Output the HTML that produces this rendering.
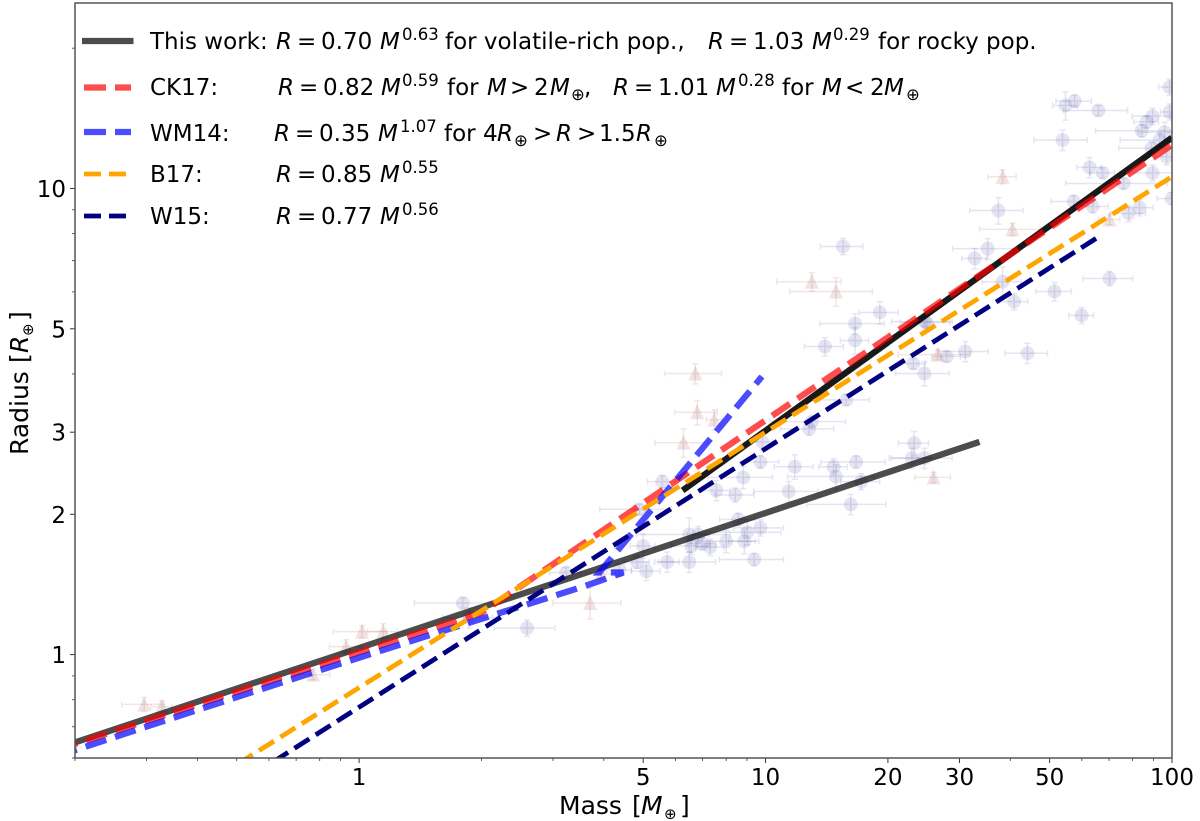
<!DOCTYPE html>
<html lang="en">
<head>
<meta charset="utf-8">
<title>Mass-radius relation</title>
<style>
html,body{margin:0;padding:0;background:#fff;width:1200px;height:821px;overflow:hidden}
svg{display:block;font-family:"DejaVu Sans","Liberation Sans",sans-serif;fill:#000}
.i{font-style:italic}
</style>
</head>
<body>
<svg id="chart" xmlns="http://www.w3.org/2000/svg" width="1200" height="821" viewBox="0 0 1200 821">
  <defs><clipPath id="plot-clip"><rect x="75" y="3" width="1097" height="755"/></clipPath></defs>
  <rect x="0" y="0" width="1200" height="821" fill="#fff"/>
  <g id="points" clip-path="url(#plot-clip)"></g>
  <g id="lines" clip-path="url(#plot-clip)"></g>
  <g id="ticks"></g>
  <rect x="75" y="3" width="1097" height="755" fill="none" stroke="#555" stroke-width="1.5"/>

  <g font-size="23">
    <g>
      <line x1="82" x2="133.5" y1="41" y2="41" stroke="#000" stroke-opacity=".7" stroke-width="6.3"/>
      <text y="49"><tspan x="150">This work:</tspan><tspan x="276" class="i">R</tspan><tspan x="297">=</tspan><tspan x="321">0.70</tspan><tspan x="380" class="i">M</tspan><tspan x="445">for volatile-rich pop.,</tspan><tspan x="708" class="i">R</tspan><tspan x="729">=</tspan><tspan x="753">1.03</tspan><tspan x="812" class="i">M</tspan><tspan x="878">for rocky pop.</tspan></text>
      <text y="40" font-size="16.5"><tspan x="402">0.63</tspan><tspan x="833">0.29</tspan></text>
    </g>
    <g>
      <line x1="84" x2="131" y1="87.5" y2="87.5" stroke="#ff0000" stroke-opacity=".7" stroke-width="6.3" stroke-dasharray="22 9"/>
      <text y="95"><tspan x="150">CK17:</tspan><tspan x="278" class="i">R</tspan><tspan x="299">=</tspan><tspan x="323">0.82</tspan><tspan x="381" class="i">M</tspan><tspan x="447">for</tspan><tspan x="487" class="i">M</tspan><tspan x="510">&gt;</tspan><tspan x="534">2</tspan><tspan x="550" class="i">M</tspan><tspan x="584">,</tspan><tspan x="613" class="i">R</tspan><tspan x="634">=</tspan><tspan x="658">1.01</tspan><tspan x="716" class="i">M</tspan><tspan x="782">for</tspan><tspan x="822" class="i">M</tspan><tspan x="845">&lt;</tspan><tspan x="870">2</tspan><tspan x="884" class="i">M</tspan></text>
      <text y="86" font-size="16.5"><tspan x="402">0.59</tspan><tspan x="738">0.28</tspan></text>
      <text y="100" font-size="16.5"><tspan x="571">⊕</tspan><tspan x="906">⊕</tspan></text>
    </g>
    <g>
      <line x1="84" x2="131" y1="132" y2="132" stroke="#0000ff" stroke-opacity=".7" stroke-width="6.3" stroke-dasharray="22 9"/>
      <text y="141"><tspan x="150">WM14:</tspan><tspan x="274" class="i">R</tspan><tspan x="295">=</tspan><tspan x="319">0.35</tspan><tspan x="378" class="i">M</tspan><tspan x="444">for</tspan><tspan x="483">4</tspan><tspan x="497" class="i">R</tspan><tspan x="533">&gt;</tspan><tspan x="556" class="i">R</tspan><tspan x="577">&gt;</tspan><tspan x="599">1.5</tspan><tspan x="636" class="i">R</tspan></text>
      <text y="132" font-size="16.5"><tspan x="400">1.07</tspan></text>
      <text y="146" font-size="16.5"><tspan x="514">⊕</tspan><tspan x="654">⊕</tspan></text>
    </g>
    <g>
      <line x1="84" x2="126" y1="174" y2="174" stroke="#ffa500" stroke-width="4.8" stroke-dasharray="17 8"/>
      <text y="182"><tspan x="150">B17:</tspan><tspan x="276" class="i">R</tspan><tspan x="297">=</tspan><tspan x="321">0.85</tspan><tspan x="380" class="i">M</tspan></text>
      <text y="173" font-size="16.5"><tspan x="402">0.55</tspan></text>
    </g>
    <g>
      <line x1="84" x2="126" y1="216" y2="216" stroke="#000080" stroke-width="4.8" stroke-dasharray="17 8"/>
      <text y="224"><tspan x="150">W15:</tspan><tspan x="276" class="i">R</tspan><tspan x="297">=</tspan><tspan x="321">0.77</tspan><tspan x="380" class="i">M</tspan></text>
      <text y="215" font-size="16.5"><tspan x="402">0.56</tspan></text>
    </g>
  </g>

  <g font-size="25">
    <text y="814"><tspan x="559">Mass</tspan><tspan x="632">[</tspan><tspan x="641" class="i">M</tspan><tspan x="680">]</tspan></text>
    <text x="664" y="819" font-size="15">⊕</text>
  </g>
  <g font-size="25" transform="translate(28,455) rotate(-90)">
    <text y="0"><tspan x="0">Radius</tspan><tspan x="92">[</tspan><tspan x="102" class="i">R</tspan><tspan x="134">]</tspan></text>
    <text x="119" y="5" font-size="15">⊕</text>
  </g>
</svg>
<script>
// Blue points: volatile-rich population
const blueMass = [54.7,57.6,65.9,53.8,98.6,98.6,89.6,86.6,84.2,95.9,93.2,89.1,97.0,62.7,67.5,76.0,89.6,57.3,63.8,78.2,83.2,99.8,37.4,35.2,32.7,38.3,40.9,51.4,70.2,59.9,31.0,44.1,27.9,24.9,15.5,16.6,19.1,16.6,14.0,24.6,23.1,24.6,15.8,13.0,12.8,9.82,9.71,11.8,14.7,16.7,14.9,8.81,7.57,8.43,11.4,16.2,23.2,22.9,24.6,17.2,8.57,6.49,6.83,9.02,9.71,6.57,6.98,7.31,8.0,8.87,5.0,5.73,6.49,9.38,4.83,5.09,1.80,2.59,3.23,4.37,4.89,1.87,5.57];
const blueRadius = [15.07,15.4,14.7,12.7,16.5,14.6,14.3,13.9,13.3,13.2,12.7,12.2,11.7,11.1,10.8,10.25,10.8,9.38,9.15,8.84,9.10,9.52,8.97,7.43,7.08,6.31,5.72,6.01,6.41,5.34,4.47,4.43,4.36,5.16,7.51,5.13,5.42,4.72,4.58,5.18,4.21,4.01,3.52,3.16,3.05,2.86,2.59,2.53,2.53,2.59,2.41,2.40,2.25,2.20,2.24,2.10,2.84,2.64,2.64,2.35,1.95,1.81,1.81,1.83,1.87,1.71,1.73,1.70,1.75,1.75,1.71,1.58,1.58,1.60,1.58,1.51,1.29,1.14,1.50,1.52,2.05,1.20,2.35];
const blueMassErrPct = [7,10,18,15,6,5,11,7,23,14,20,17,7,7,7,28,17,12,9,10,8,8,15,18,7,11,8,10,14,7,14,12,8,14,12,18,11,8,11,17,7,15,14,21,15,6,11,11,8,18,24,18,8,11,18,22,8.5,12,17,11,10,26,6,21,14,11,8,8,18,8.5,7,7,16,18,7,8,24,17,9,7,20,14,8];
const blueRadiusErrPct = [7,3,2.5,5,4,4,4,3,3,5,3,3,4,5,2.5,2.5,4,3,3,4,4,3,6.5,5,5,7.5,4,4.5,3.5,4,5,5,2.5,3,4,5,5.5,6.5,4.5,2.5,2.5,6,2.5,2.5,3,4,3,6,4,3,6,5.5,5,3.5,5,5,6,5,5,4,3,8.5,4,6,4,4,3,4,5.5,6,6,5,5,3,3,4.5,2.5,4,2.5,3,2.5,5,3];

// Red triangles: rocky population
const redMass = [38.3,40.5,70.2,26.5,13.0,14.9,6.72,6.79,7.48,6.28,25.9,3.70,3.94,0.296,0.327,1.017,1.146,0.929,0.770];
const redRadius = [10.6,8.17,8.58,4.40,6.31,6.01,4.01,3.31,3.19,2.85,2.40,1.29,1.49,0.782,0.773,1.12,1.12,1.04,0.906];
const redMassErrPct = [8,17,6,20,18,23,16,12,4.5,15,10,19,8.5,12,6,15,8.5,9,10];
const redRadiusErrPct = [3.5,3,2.5,2.5,4.5,7,5,6,5,7,2.5,7.5,2.5,3.5,3,3,4,3.5,2.5];

// Relation lines
const rockyMass = [0.2,33.6];
const rockyRadius = [0.648,2.86];
const volatileMass = [6.25,100];
const volatileRadius = [2.25,12.85];
const ck17Mass = [0.2,2,100];
const ck17Radius = [0.643,1.23,12.4];
const wm14Mass = [0.196,0.299,0.478,0.725,1.056,1.488,2.04,2.73,3.57,4.47,3.9,9.8];
const wm14Radius = [0.62,0.7,0.8,0.9,1,1.1,1.2,1.3,1.4,1.5,1.5,3.95];
const b17Mass = [0.4,100];
const b17Radius = [0.514,10.6];
const w15Mass = [0.5,65.6];
const w15Radius = [0.525,7.85];

// Axis ticks
const xMajorTicks = [1,5,10,20,30,50,100];
const xMinorTicks = [0.2,0.3,0.4,0.5,0.6,0.7,0.8,0.9,2,3,4,6,7,8,9,40,60,70,80,90];
const yMajorTicks = [1,2,3,5,10];
const yMinorTicks = [0.6,0.7,0.8,0.9,4,6,7,8,9,20];

const X_LEFT = 75, X_RIGHT = 1172, Y_TOP = 3, Y_BOTTOM = 758;
const X_MIN = 0.2, X_MAX = 100, Y_MIN = 0.6, Y_MAX = 25;
function xAxis(m){ return X_LEFT + (Math.log10(m) - Math.log10(X_MIN)) / (Math.log10(X_MAX) - Math.log10(X_MIN)) * (X_RIGHT - X_LEFT); }
function yAxis(r){ return Y_BOTTOM - (Math.log10(r) - Math.log10(Y_MIN)) / (Math.log10(Y_MAX) - Math.log10(Y_MIN)) * (Y_BOTTOM - Y_TOP); }
const NS = 'http://www.w3.org/2000/svg';
function make(tag, parent){ const el = document.createElementNS(NS, tag); parent.appendChild(el); return el; }
const pointsG = document.getElementById('points');
const linesG = document.getElementById('lines');
const ticksG = document.getElementById('ticks');

function drawErrorBars(g, m, r, mp, rp, color, opacity){
  const x = xAxis(m), y = yAxis(r);
  const xl = xAxis(m * (1 - mp / 100)), xh = xAxis(m * (1 + mp / 100));
  const yl = yAxis(r * (1 - rp / 100)), yh = yAxis(r * (1 + rp / 100));
  const d = 'M' + xl + ' ' + y + 'H' + xh + 'M' + x + ' ' + yl + 'V' + yh +
    'M' + xl + ' ' + (y - 3) + 'V' + (y + 3) + 'M' + xh + ' ' + (y - 3) + 'V' + (y + 3) +
    'M' + (x - 3) + ' ' + yl + 'H' + (x + 3) + 'M' + (x - 3) + ' ' + yh + 'H' + (x + 3);
  const p = make('path', g);
  
  
  p.setAttribute('d', d);
  p.setAttribute('stroke', color);
  p.setAttribute('stroke-opacity', opacity);
  p.setAttribute('stroke-width', '1.5');
  p.setAttribute('fill', 'none');
}

blueMass.forEach(function(m, i){
  const c = make('circle', pointsG);
  
  
  c.setAttribute('cx', xAxis(m));
  c.setAttribute('cy', yAxis(blueRadius[i]));
  c.setAttribute('r', '7');
  c.setAttribute('fill', '#000080');
  c.setAttribute('fill-opacity', '.1');
  drawErrorBars(pointsG, m, blueRadius[i], blueMassErrPct[i], blueRadiusErrPct[i], '#000080', '.1');
});

redMass.forEach(function(m, i){
  const x = xAxis(m), y = yAxis(redRadius[i]);
  const t = make('polygon', pointsG);
  
  
  t.setAttribute('points', (x - 7) + ',' + (y + 7) + ' ' + (x + 7) + ',' + (y + 7) + ' ' + x + ',' + (y - 8));
  t.setAttribute('fill', '#800000');
  t.setAttribute('fill-opacity', '.11');
  drawErrorBars(pointsG, m, redRadius[i], redMassErrPct[i], redRadiusErrPct[i], '#800000', '.1');
});

function drawLine(masses, radii, color, opacity, width, dash, offset){
  const p = make('path', linesG);
  p.setAttribute('d', masses.map(function(m, i){ return (i ? 'L' : 'M') + xAxis(m) + ' ' + yAxis(radii[i]); }).join(''));
  p.setAttribute('fill', 'none');
  p.setAttribute('stroke', color);
  p.setAttribute('stroke-opacity', opacity);
  p.setAttribute('stroke-width', width);
  if (dash) { p.setAttribute('stroke-dasharray', dash); p.setAttribute('stroke-dashoffset', offset || 0); }
  return p;
}
const lineRocky = drawLine(rockyMass, rockyRadius, '#000', '.7', '6.3');


const lineVolatile = drawLine(volatileMass, volatileRadius, '#000', '.9', '6.3');


const lineCk17 = drawLine(ck17Mass, ck17Radius, '#ff0000', '.7', '6.3', '21.4 9.26', 18.9);


const lineWm14 = drawLine(wm14Mass, wm14Radius, '#0000ff', '.7', '6.3', '21.6 9.3', 15.9);


const lineB17 = drawLine(b17Mass, b17Radius, '#ffa500', '1', '4.8', '17.6 7.6', 2.7);


const lineW15 = drawLine(w15Mass, w15Radius, '#000080', '1', '4.8', '17.6 7.6', 7.2);



xMajorTicks.forEach(function(v){
  const x = xAxis(v);
  const t = make('line', ticksG);
  
  
  t.setAttribute('x1', x); t.setAttribute('x2', x);
  t.setAttribute('y1', Y_BOTTOM); t.setAttribute('y2', Y_BOTTOM + 5);
  t.setAttribute('stroke', '#333'); t.setAttribute('stroke-width', '1');
  const l = make('text', ticksG);
  
  
  l.setAttribute('x', x); l.setAttribute('y', 785);
  l.setAttribute('text-anchor', 'middle'); l.setAttribute('font-size', '23');
  l.textContent = v;
});
xMinorTicks.forEach(function(v){
  const x = xAxis(v);
  const t = make('line', ticksG);
  
  
  t.setAttribute('x1', x); t.setAttribute('x2', x);
  t.setAttribute('y1', Y_BOTTOM); t.setAttribute('y2', Y_BOTTOM + 3);
  t.setAttribute('stroke', '#333'); t.setAttribute('stroke-width', '.8');
});
yMajorTicks.forEach(function(v){
  const y = yAxis(v);
  const t = make('line', ticksG);
  
  
  t.setAttribute('x1', X_LEFT - 5); t.setAttribute('x2', X_LEFT);
  t.setAttribute('y1', y); t.setAttribute('y2', y);
  t.setAttribute('stroke', '#333'); t.setAttribute('stroke-width', '1');
  const l = make('text', ticksG);
  
  
  l.setAttribute('x', 66); l.setAttribute('y', y + 8.5);
  l.setAttribute('text-anchor', 'end'); l.setAttribute('font-size', '23');
  l.textContent = v;
});
yMinorTicks.forEach(function(v){
  const y = yAxis(v);
  const t = make('line', ticksG);
  
  
  t.setAttribute('x1', X_LEFT - 3); t.setAttribute('x2', X_LEFT);
  t.setAttribute('y1', y); t.setAttribute('y2', y);
  t.setAttribute('stroke', '#333'); t.setAttribute('stroke-width', '.8');
});
</script>
</body>
</html>
